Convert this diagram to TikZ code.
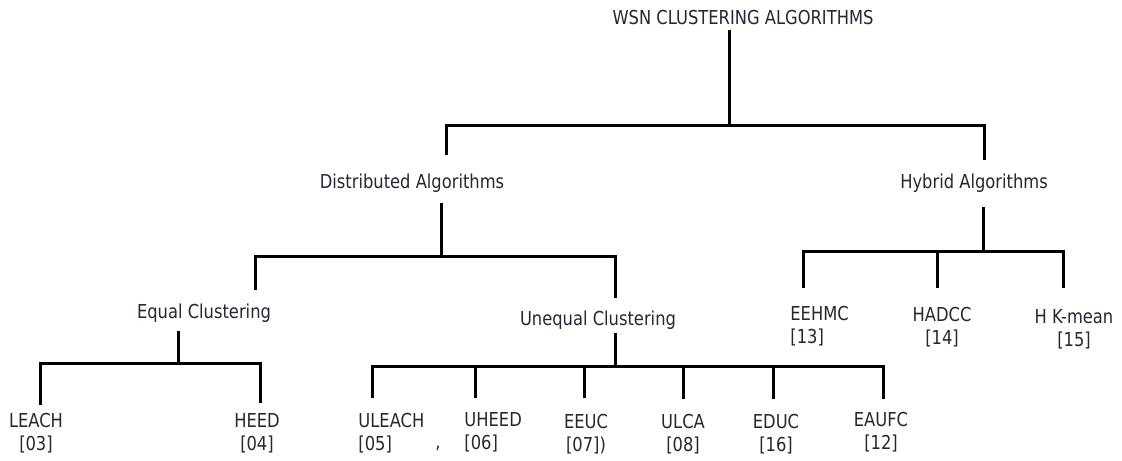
\documentclass[tikz,border=0pt]{standalone}
\usepackage{fontspec}
\setmainfont{DejaVu Sans}[FakeStretch=0.85]
\usetikzlibrary{positioning}
\definecolor{labelcol}{RGB}{45,35,50}
\tikzset{
  % category label
  lbl/.style={inner sep=0pt, font=\fontsize{9.6}{11.5}\selectfont, text=labelcol},
  % leaf label with its reference
  leaf/.style={lbl, align=#1},
  leaf/.default=center,
  % tree branch
  branch/.style={line width=1.5pt, black},
}
\begin{document}
\begin{tikzpicture}[x=0.5pt, y=-0.5pt]
  \useasboundingbox (0,0) rectangle (1122,460);

  % category labels
  \node[lbl] (wsn) at (743,18) {WSN CLUSTERING ALGORITHMS};
  \node[lbl] (dist) at (412,183) {Distributed Algorithms};
  \node[lbl] (hyb) at (974,183) {Hybrid Algorithms};
  \node[lbl] (equal) at (204,313) {Equal Clustering};
  \node[lbl] (unequal) at (598,320) {Unequal Clustering};

  % leaves
  \node[leaf] (leach) at (36,433) {LEACH\\{[03]}};
  \node[leaf] (heed) at (257,433) {HEED\\{[04]}};
  \node[leaf=left, anchor=west] (uleach) at (358,433) {ULEACH\\{[05]}};
  \node[lbl] (comma) at (438,448) {,};
  \node[leaf=left, anchor=west] (uheed) at (464,432) {UHEED\\{[06]}};
  \node[leaf] (eeuc) at (586,434) {EEUC\\{[07])}};
  \node[leaf] (ulca) at (683,434) {ULCA\\{[08]}};
  \node[leaf] (educ) at (776,434) {EDUC\\{[16]}};
  \node[leaf] (eaufc) at (881,432) {EAUFC\\{[12]}};
  \node[leaf=left, anchor=west] (eehmc) at (790,326) {EEHMC\\{[13]}};
  \node[leaf] (hadcc) at (942,327) {HADCC\\{[14]}};
  \node[leaf] (hkmean) at (1074,329) {H K-mean\\{[15]}};

  % branch ends
  \foreach \n/\x/\y in {wsn-s/729/30, wsn-j/729/125, dist-t/446/155, hyb-t/984/160,
      dist-s/441/203, dist-j/441/256, equal-t/255/290, unequal-t/615/298,
      equal-s/178/331, equal-j/178/363, leach-t/40/405, heed-t/260/403,
      unequal-s/615/333, unequal-j/615/366,
      uleach-t/372/398, uheed-t/475/398, eeuc-t/584/398, ulca-t/683/399, educ-t/773/399, eaufc-t/883/399,
      hyb-s/983/207, hyb-j/983/251, eehmc-t/803/288, hadcc-t/937/288, hkmean-t/1063/288}
    \coordinate (\n) at (\x,\y);

  % root
  \draw[branch] (wsn-s) -- (wsn-j);
  \draw[branch] (dist-t) |- (wsn-j) -| (hyb-t);
  % distributed
  \draw[branch] (dist-s) -- (dist-j);
  \draw[branch] (equal-t) |- (dist-j) -| (unequal-t);
  % equal clustering
  \draw[branch] (equal-s) -- (equal-j);
  \draw[branch] (leach-t) |- (equal-j) -| (heed-t);
  % unequal clustering
  \draw[branch] (unequal-s) -- (unequal-j);
  \draw[branch] (uleach-t) |- (unequal-j) -| (eaufc-t);
  \foreach \c in {uheed-t, eeuc-t, ulca-t, educ-t}
    \draw[branch] (\c) -- (\c |- unequal-j);
  % hybrid
  \draw[branch] (hyb-s) -- (hyb-j);
  \draw[branch] (eehmc-t) |- (hyb-j) -| (hkmean-t);
  \draw[branch] (hadcc-t) -- (hadcc-t |- hyb-j);
\end{tikzpicture}
\end{document}
